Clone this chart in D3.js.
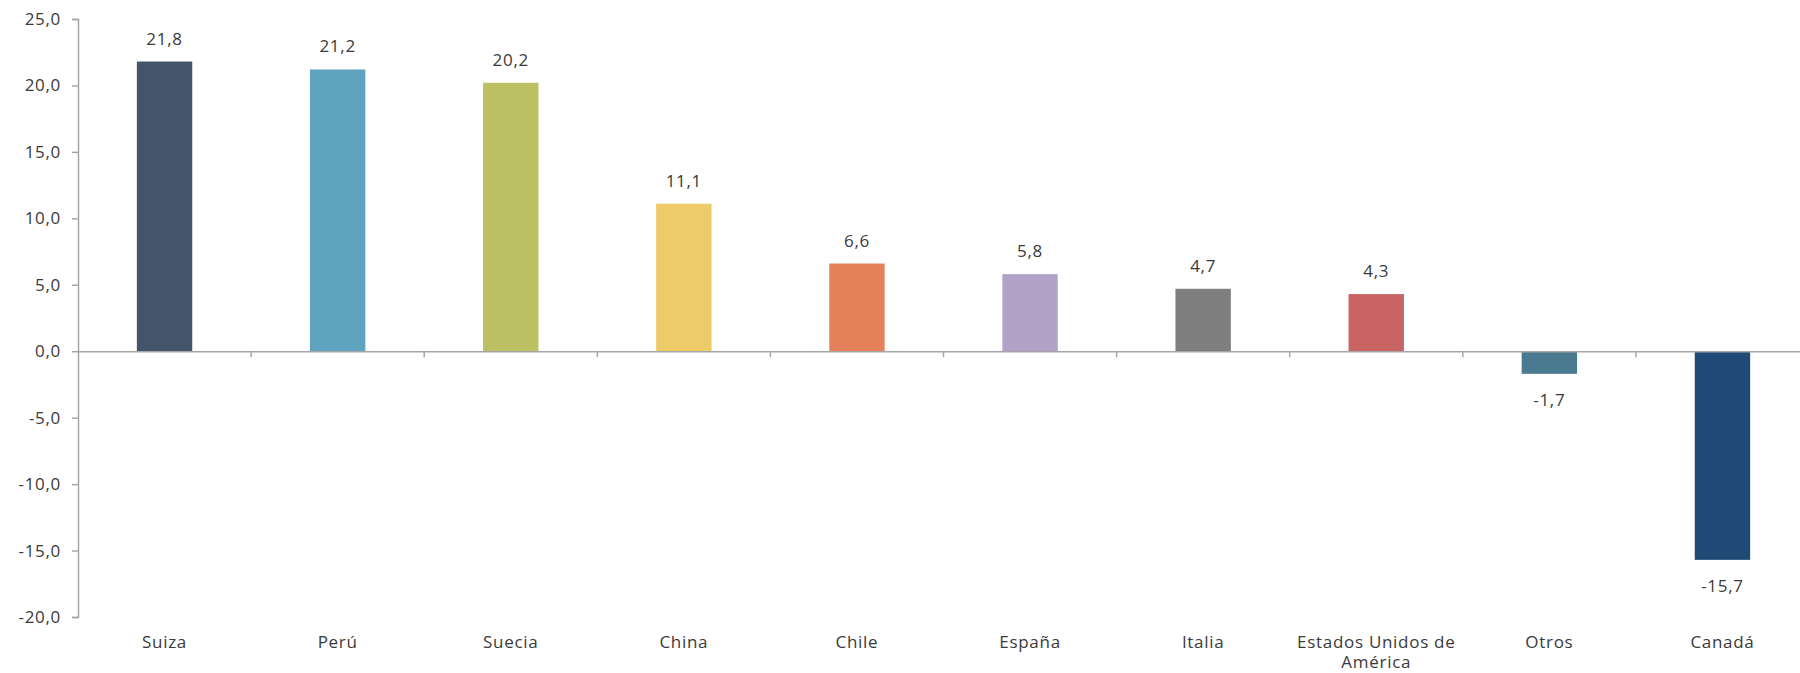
<!DOCTYPE html>
<html><head><meta charset="utf-8">
<script src="https://cdn.jsdelivr.net/npm/d3@7"></script>
<style>
html,body{margin:0;padding:0;background:#fff;}
svg{display:block;font-family:"Open Sans",sans-serif;}
</style></head>
<body>
<svg id="chart" width="1800" height="673"></svg>
<script>
const categories = ["Suiza","Perú","Suecia","China","Chile","España","Italia","Estados Unidos de América","Otros","Canadá"];
const values = [21.8,21.2,20.2,11.1,6.6,5.8,4.7,4.3,-1.7,-15.7];
const colors = ["#44546a","#5fa3bf","#bdbf63","#eecb69","#e5815a","#b3a2c8","#7f7f7f","#c96464","#4a7a8f","#1f4a75"];
const yTicks = [-20,-15,-10,-5,0,5,10,15,20,25];

(function(){
const svg = d3.select("#chart");
const mLeft = 78, mRight = 1809, mTop = 19, mBottom = 617;
const textColor = "#3a3a3a", axisColor = "#a6a6a6";
const fs = 17, ls = "0.7px";

const x = d3.scaleBand().domain(categories).range([mLeft, mRight]).paddingInner(0).paddingOuter(0);
const y = d3.scaleLinear().domain([-20,25]).range([mBottom, mTop]);
const fmt = v => d3.format(".1f")(v).replace(".", ",").replace("−","-");

// Y axis
const yAxis = svg.append("g").attr("transform",`translate(${mLeft},0)`)
  .call(d3.axisLeft(y).tickValues(yTicks).tickSize(6).tickPadding(11).tickFormat(fmt));
yAxis.select(".domain").attr("stroke",axisColor).attr("stroke-width",1.5);
yAxis.selectAll(".tick line").attr("stroke",axisColor).attr("stroke-width",1.5);
yAxis.selectAll(".tick text").attr("fill",textColor).attr("font-size",fs)
  .attr("font-family","Open Sans").style("letter-spacing",ls);

// Bars
const bw = x.bandwidth()*0.32;
svg.append("g").selectAll("rect").data(values).join("rect")
  .attr("x",(d,i)=>x(categories[i])+x.bandwidth()/2 - bw/2)
  .attr("width",bw)
  .attr("y",d=>y(Math.max(0,d)))
  .attr("height",d=>Math.abs(y(d)-y(0)))
  .attr("fill",(d,i)=>colors[i]);

// Zero line with category ticks
const xAxis = svg.append("g").attr("transform",`translate(0,${y(0)})`)
  .call(d3.axisBottom(x).tickSize(0).tickFormat(""));
xAxis.select(".domain").attr("stroke",axisColor).attr("stroke-width",1.5);
xAxis.selectAll(".tick").remove();
svg.append("g").selectAll("line").data(categories.slice(1)).join("line")
  .attr("x1",d=>x(d)).attr("x2",d=>x(d))
  .attr("y1",y(0)).attr("y2",y(0)+6)
  .attr("stroke",axisColor).attr("stroke-width",1.5);

// Value labels
svg.append("g").selectAll("text").data(values).join("text")
  .attr("x",(d,i)=>x(categories[i])+x.bandwidth()/2)
  .attr("y",d=> d>=0 ? y(d)-17 : y(d)+32)
  .attr("text-anchor","middle")
  .attr("fill",textColor).attr("font-size",fs).style("letter-spacing",ls)
  .text(d=>fmt(d));

// Category labels with wrapping
const catG = svg.append("g");
categories.forEach((c,i)=>{
  const cx = x(c)+x.bandwidth()/2;
  const t = catG.append("text")
    .attr("x",cx).attr("y",648)
    .attr("text-anchor","middle").attr("fill",textColor).attr("font-size",fs)
    .style("letter-spacing",ls);
  const words = c.split(" ");
  let line = [];
  let ts = t.append("tspan").attr("x",cx).attr("dy",0);
  words.forEach(w=>{
    line.push(w);
    ts.text(line.join(" "));
    if (ts.node().getComputedTextLength() > x.bandwidth()-4 && line.length>1){
      line.pop(); ts.text(line.join(" "));
      line=[w];
      ts = t.append("tspan").attr("x",cx).attr("dy",20).text(w);
    }
  });
});
})();
</script>
</body></html>
